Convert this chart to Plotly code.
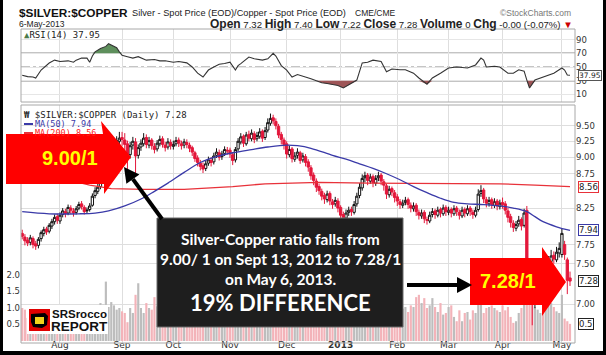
import math
import pandas as pd
import plotly.graph_objects as go

W, H = 606, 355

# ---------------- data ----------------
holidays = ["2012-09-03", "2012-10-29", "2012-10-30", "2012-11-22", "2012-12-25",
            "2013-01-01", "2013-01-21", "2013-02-18", "2013-03-29"]
dates = [d for d in pd.bdate_range("2012-07-12", "2013-05-06")
         if d.strftime("%Y-%m-%d") not in holidays]

opens = [
    7.90, 7.85, 7.81, 7.78, 7.83, 7.76, 7.74, 7.83, 7.90, 7.96, 7.93, 8.00, 8.06, 8.13,
    8.07, 8.16, 8.20, 8.18, 8.25, 8.21, 8.19, 8.25, 8.31, 8.26, 8.21, 8.23, 8.29, 8.43, 8.49, 8.56, 8.63, 8.76, 8.87, 8.99, 9.07, 9.19, 9.25,
    9.31, 9.27, 9.21, 9.04, 9.19, 9.24, 9.03, 9.16, 9.21, 9.31, 9.19, 9.27, 9.17, 9.13, 9.21, 9.29, 9.19, 9.16, 9.23,
    9.17, 9.21, 9.27, 9.21, 9.19, 9.23, 9.19, 9.15, 9.07, 8.99, 8.91, 8.87, 8.83, 8.91, 8.95, 8.93, 9.03, 9.07, 9.01, 9.06, 9.11,
    9.11, 9.04, 8.96, 9.13, 9.24, 9.33, 9.21, 9.36, 9.29, 9.37, 9.29, 9.33, 9.41, 9.31, 9.43, 9.54, 9.63, 9.57, 9.49, 9.36, 9.27,
    9.21, 9.04, 9.13, 8.97, 9.03, 9.07, 8.96, 9.01, 8.93, 8.84, 8.73, 8.64, 8.56, 8.49, 8.43, 8.37, 8.46, 8.34, 8.31, 8.35,
    8.26, 8.16, 8.11, 8.19, 8.23, 8.19, 8.31, 8.43, 8.54, 8.69, 8.73, 8.64, 8.71, 8.61, 8.69, 8.73, 8.63, 8.57, 8.44, 8.53, 8.47,
    8.41, 8.34, 8.29, 8.33, 8.37, 8.29, 8.24, 8.29, 8.19, 8.14, 8.19, 8.09, 8.07, 8.16, 8.21, 8.15, 8.23, 8.17, 8.26,
    8.19, 8.23, 8.17, 8.25, 8.19, 8.14, 8.23, 8.17, 8.25, 8.19, 8.15, 8.23, 8.46, 8.51, 8.37, 8.31, 8.37, 8.29, 8.35, 8.27,
    8.33, 8.31, 8.21, 8.13, 8.04, 7.97, 8.03, 8.09, 8.01, 8.22, 7.52, 7.08, 7.01, 7.16, 7.21, 7.31, 7.27, 7.46, 7.53, 7.61, 7.55, 7.64,
    7.62, 7.75, 7.55, 7.32,
]
highs = [
    7.95, 7.89, 7.85, 7.88, 7.86, 7.80, 7.85, 7.94, 7.99, 7.99, 8.04, 8.10, 8.16, 8.17,
    8.19, 8.25, 8.24, 8.30, 8.29, 8.25, 8.28, 8.34, 8.35, 8.29, 8.26, 8.32, 8.46, 8.55, 8.60, 8.68, 8.80, 8.93, 9.04, 9.14, 9.24, 9.33, 9.40,
    9.40, 9.38, 9.26, 9.24, 9.32, 9.30, 9.20, 9.28, 9.38, 9.36, 9.32, 9.30, 9.22, 9.27, 9.34, 9.33, 9.24, 9.30, 9.28,
    9.26, 9.32, 9.31, 9.26, 9.29, 9.28, 9.23, 9.18, 9.10, 9.03, 8.96, 8.92, 8.95, 9.01, 9.00, 9.07, 9.14, 9.12, 9.10, 9.17, 9.16,
    9.15, 9.08, 9.16, 9.30, 9.38, 9.36, 9.40, 9.42, 9.44, 9.41, 9.40, 9.46, 9.44, 9.48, 9.62, 9.70, 9.68, 9.62, 9.53, 9.40, 9.31,
    9.25, 9.18, 9.16, 9.08, 9.14, 9.10, 9.07, 9.05, 8.97, 8.88, 8.77, 8.68, 8.60, 8.53, 8.47, 8.50, 8.49, 8.38, 8.41, 8.39,
    8.29, 8.20, 8.23, 8.27, 8.27, 8.35, 8.47, 8.61, 8.74, 8.78, 8.76, 8.75, 8.74, 8.73, 8.78, 8.76, 8.67, 8.60, 8.57, 8.56, 8.51,
    8.45, 8.38, 8.37, 8.41, 8.40, 8.33, 8.33, 8.32, 8.23, 8.23, 8.22, 8.13, 8.20, 8.25, 8.24, 8.27, 8.26, 8.30, 8.29,
    8.27, 8.26, 8.29, 8.28, 8.23, 8.27, 8.26, 8.29, 8.28, 8.23, 8.27, 8.52, 8.58, 8.54, 8.41, 8.41, 8.40, 8.39, 8.38, 8.37,
    8.40, 8.35, 8.25, 8.17, 8.08, 8.07, 8.14, 8.12, 8.24, 8.28, 7.56, 7.12, 7.20, 7.28, 7.36, 7.38, 7.50, 7.60, 7.68, 7.66, 7.72, 7.78,
    7.96, 7.80, 7.58, 7.40,
]
lows = [
    7.82, 7.74, 7.73, 7.74, 7.70, 7.68, 7.70, 7.79, 7.86, 7.88, 7.90, 7.96, 8.02, 8.03,
    8.03, 8.12, 8.12, 8.15, 8.17, 8.13, 8.16, 8.22, 8.23, 8.16, 8.17, 8.20, 8.27, 8.39, 8.45, 8.52, 8.60, 8.72, 8.83, 8.94, 9.02, 9.12, 9.20,
    9.18, 8.98, 8.78, 8.98, 9.12, 8.76, 8.98, 9.10, 9.17, 9.14, 9.14, 9.12, 9.06, 9.09, 9.17, 9.15, 9.09, 9.12, 9.12,
    9.12, 9.17, 9.16, 9.12, 9.14, 9.14, 9.08, 9.02, 8.93, 8.86, 8.80, 8.76, 8.79, 8.87, 8.86, 8.89, 8.99, 8.95, 8.96, 9.02, 9.04,
    8.99, 8.88, 8.92, 9.09, 9.20, 9.16, 9.18, 9.25, 9.25, 9.22, 9.25, 9.29, 9.24, 9.27, 9.39, 9.50, 9.52, 9.44, 9.30, 9.20, 9.12,
    8.98, 9.00, 8.92, 8.93, 8.98, 8.90, 8.92, 8.86, 8.78, 8.66, 8.58, 8.48, 8.44, 8.36, 8.31, 8.33, 8.29, 8.24, 8.27, 8.19,
    8.10, 8.06, 8.07, 8.14, 8.14, 8.16, 8.27, 8.39, 8.50, 8.62, 8.58, 8.60, 8.55, 8.57, 8.64, 8.58, 8.50, 8.38, 8.40, 8.42, 8.33,
    8.28, 8.24, 8.25, 8.29, 8.24, 8.19, 8.20, 8.14, 8.09, 8.10, 8.04, 8.02, 8.04, 8.12, 8.10, 8.12, 8.12, 8.14, 8.14,
    8.15, 8.12, 8.14, 8.14, 8.09, 8.11, 8.12, 8.14, 8.14, 8.10, 8.12, 8.20, 8.41, 8.32, 8.26, 8.27, 8.24, 8.25, 8.22, 8.23,
    8.24, 8.16, 8.05, 7.98, 7.92, 7.93, 7.99, 7.94, 7.98, 7.48, 7.02, 6.75, 6.95, 7.10, 7.16, 7.20, 7.24, 7.42, 7.48, 7.50, 7.52, 7.58,
    7.58, 7.55, 7.12, 7.22,
]
closes = [
    7.86, 7.80, 7.77, 7.84, 7.75, 7.73, 7.82, 7.91, 7.95, 7.92, 8.01, 8.06, 8.12, 8.08,
    8.15, 8.21, 8.17, 8.26, 8.22, 8.18, 8.24, 8.30, 8.27, 8.20, 8.22, 8.28, 8.42, 8.50, 8.55, 8.62, 8.75, 8.88, 8.98, 9.08, 9.18, 9.26, 9.30,
    9.28, 9.20, 9.05, 9.18, 9.25, 9.02, 9.15, 9.22, 9.30, 9.20, 9.26, 9.18, 9.12, 9.22, 9.28, 9.20, 9.15, 9.24, 9.18,
    9.20, 9.26, 9.22, 9.18, 9.24, 9.20, 9.14, 9.08, 8.98, 8.92, 8.86, 8.82, 8.90, 8.96, 8.92, 9.02, 9.08, 9.00, 9.05, 9.12, 9.10,
    9.05, 8.95, 9.12, 9.25, 9.32, 9.22, 9.35, 9.30, 9.38, 9.28, 9.34, 9.40, 9.30, 9.42, 9.55, 9.62, 9.58, 9.50, 9.35, 9.28, 9.20,
    9.05, 9.12, 8.98, 9.02, 9.08, 8.95, 9.02, 8.92, 8.85, 8.72, 8.65, 8.55, 8.50, 8.42, 8.38, 8.45, 8.35, 8.30, 8.36, 8.25,
    8.15, 8.12, 8.18, 8.22, 8.20, 8.30, 8.42, 8.55, 8.68, 8.72, 8.65, 8.70, 8.62, 8.68, 8.72, 8.64, 8.58, 8.45, 8.52, 8.48, 8.40,
    8.35, 8.30, 8.32, 8.36, 8.30, 8.25, 8.28, 8.20, 8.15, 8.18, 8.10, 8.08, 8.15, 8.20, 8.16, 8.22, 8.18, 8.25, 8.20,
    8.22, 8.18, 8.24, 8.20, 8.15, 8.22, 8.18, 8.24, 8.20, 8.16, 8.22, 8.45, 8.50, 8.38, 8.32, 8.36, 8.30, 8.34, 8.28, 8.32,
    8.30, 8.22, 8.12, 8.05, 7.98, 8.02, 8.08, 8.00, 8.18, 7.55, 7.10, 7.02, 7.15, 7.22, 7.30, 7.28, 7.45, 7.52, 7.60, 7.56, 7.65, 7.70,
    7.90, 7.62, 7.29, 7.28,
]
volume = [
    1.00, 0.95, 0.70, 0.85, 0.90, 0.60, 0.75, 0.80, 0.70, 0.65, 0.85, 0.80, 0.95, 0.90,
    0.85, 0.90, 0.75, 0.95, 0.80, 0.70, 0.85, 0.90, 0.80, 0.75, 0.70, 0.85, 1.05, 0.95, 1.00, 1.15, 1.10, 1.80, 1.03, 1.18, 1.08, 0.95, 1.00,
    0.90, 0.85, 0.57, 1.00, 0.85, 1.40, 1.75, 1.00, 0.85, 1.15, 1.00, 0.95, 1.33, 1.05, 0.95, 1.10, 0.90, 1.00, 0.85,
    0.95, 1.05, 0.90, 0.80, 1.10, 0.95, 0.85, 1.00, 1.20, 1.15, 0.95, 1.05, 0.90, 0.85, 1.00, 0.95, 1.10, 0.90, 0.80, 0.95, 1.00,
    0.90, 1.10, 1.20, 1.05, 0.95, 1.00, 0.90, 0.85, 1.05, 0.95, 0.90, 1.00, 0.85, 1.10, 1.25, 1.15, 1.05, 1.20, 1.30, 1.10, 1.00,
    1.05, 0.95, 1.10, 0.90, 0.85, 1.00, 0.95, 1.05, 1.15, 1.20, 1.10, 1.25, 1.05, 1.15, 0.95, 1.00, 1.10, 0.90, 0.85, 0.95,
    0.90, 1.05, 0.95, 1.10, 1.00, 1.20, 1.30, 1.25, 1.15, 1.05, 0.95, 1.00, 1.10, 0.90, 0.95, 1.05, 1.10, 1.20, 0.95, 1.00, 1.05,
    1.10, 1.05, 0.98, 1.03, 0.88, 1.08, 1.03, 1.33, 1.40, 1.15, 1.30, 1.00, 1.08, 1.30, 1.03, 0.88, 1.15, 0.80, 0.85,
    1.03, 1.08, 0.73, 0.60, 0.93, 0.60, 0.85, 0.88, 0.65, 0.93, 0.85, 1.30, 1.20, 0.85, 1.00, 1.03, 1.08, 1.00, 0.93, 0.88,
    1.08, 0.93, 1.03, 0.73, 0.55, 0.60, 0.85, 1.00, 1.20, 1.40, 1.35, 1.15, 1.03, 0.95, 0.85, 0.90, 1.00, 1.40, 1.15, 1.03, 0.90, 0.85,
    1.40, 0.68, 0.60, 0.52,
]

rsi_day = [0, 2, 4, 5, 7, 8, 10, 12, 14, 17, 19, 20, 22, 24, 25, 26, 27, 29, 31, 32, 34, 35, 36, 37, 39,
           41, 43, 45, 46, 49, 51, 53, 56, 58, 61, 63, 65, 67, 69, 71, 73, 75, 77, 79, 80, 81, 84, 86,
           88, 89, 91, 93, 94, 95, 96, 98, 100, 102, 103, 105, 107, 109, 111, 113, 115, 117, 119, 121,
           122, 124, 126, 128, 130, 131, 133, 135, 137, 140, 142, 145, 147, 150, 152, 155, 158, 161,
           165, 168, 170, 171, 172, 175, 177, 180, 182, 184, 186, 187, 188, 190, 193, 197, 200, 201,
           202, 203]
rsi_val = [38, 36, 35.5, 34, 45.6, 49, 55.8, 60, 58, 59, 57, 60, 63, 63, 57, 66, 72, 77, 80, 84, 80, 78,
           72, 67, 65, 63, 65, 61, 60, 61, 59, 59, 57, 58, 56, 50, 41, 35.5, 45.6, 50, 54, 55, 57, 45.6,
           52, 55, 64.5, 62, 61, 60, 62, 70, 66, 58, 52, 45.6, 35.5, 39, 38, 36, 33, 30, 27, 26, 25, 23,
           19.5, 24, 26, 31, 56, 57, 60, 59, 58, 43, 47, 46, 46, 41, 34, 25, 34, 41, 48.5, 50, 48.5, 53,
           63, 60, 50, 51, 50, 41, 41, 46, 44, 31, 19.5, 31, 35.5, 41, 48.5, 45.6, 38.5, 37.95]

ma50_day = [0, 10, 21, 27, 32, 38, 44, 49, 54, 60, 66, 72, 78, 85, 91, 98, 102, 107, 115, 120, 125,
            130, 135, 140, 145, 150, 155, 160, 165, 171, 177, 182, 187, 190, 193, 198, 203]
ma50_val = [8.20, 8.17, 8.17, 8.18, 8.21, 8.28, 8.38, 8.49, 8.61, 8.77, 8.92, 9.01, 9.07, 9.12, 9.16,
            9.19, 9.18, 9.14, 9.03, 8.97, 8.90, 8.83, 8.75, 8.66, 8.56, 8.47, 8.39, 8.33, 8.31, 8.30,
            8.28, 8.25, 8.20, 8.13, 8.06, 7.99, 7.94]
ma200_day = [0, 8, 17, 25, 33, 45, 60, 66, 78, 90, 97, 110, 128, 150, 165, 177, 190, 203]
ma200_val = [8.88, 8.76, 8.66, 8.58, 8.53, 8.52, 8.52, 8.53, 8.56, 8.60, 8.61, 8.62, 8.61, 8.61,
             8.61, 8.60, 8.58, 8.56]

month_labels = ["Aug", "Sep", "Oct", "Nov", "Dec", "<b>2013</b>", "Feb", "Mar", "Apr", "May"]
price_ticks = [7.00, 7.50, 7.75, 8.25, 8.75, 9.00, 9.25, 9.50]
rsi_ticks = [10, 30, 50, 70, 90]
vol_ticks = [0.5, 1.0, 1.5, 2.0]

n = len(dates)
for arr in (opens, highs, lows, closes, volume):
    assert len(arr) == n, (len(arr), n)

# ---------------- helpers ----------------
idx = list(range(n))
prev = [opens[0]] + closes[:-1]
is_red = [closes[i] < prev[i] for i in idx]

month_ticks = []
seen = set()
for i, d in enumerate(dates):
    k = (d.year, d.month)
    if k not in seen:
        seen.add(k)
        month_ticks.append(i)
month_ticks = month_ticks[1:]


def fx(x):
    return x / W


def fy(y):
    return 1 - y / H


def poly(pts):
    return "M " + " L ".join(f"{fx(x):.5f},{fy(y):.5f}" for x, y in pts) + " Z"


XD = [fx(21), fx(575)]
YM = [fy(343), fy(105)]
YR = [fy(102), fy(29)]
XR = [-0.45, 204.85]

RED = "#e3173b"
PINK = "#f3b3b9"
GRAY = "#bdbdbd"
GRID = "#dedede"
MONO = "DejaVu Sans Mono"
SANS = "Liberation Sans"

fig = go.Figure()

# volume
fig.add_trace(go.Bar(x=idx, y=volume, xaxis="x", yaxis="y",
                     marker=dict(color=[PINK if r else GRAY for r in is_red], line=dict(width=0)),
                     width=0.8, hoverinfo="skip"))


def candle(sel, col):
    return go.Candlestick(
        x=[idx[i] for i in sel], open=[opens[i] for i in sel], high=[highs[i] for i in sel],
        low=[lows[i] for i in sel], close=[closes[i] for i in sel], xaxis="x", yaxis="y2",
        increasing=dict(line=dict(color=col, width=1), fillcolor="white"),
        decreasing=dict(line=dict(color=col, width=1), fillcolor=col),
        whiskerwidth=0, showlegend=False, hoverinfo="skip")


fig.add_trace(candle([i for i in idx if not is_red[i]], "#111111"))
fig.add_trace(candle([i for i in idx if is_red[i]], RED))

fig.add_trace(go.Scatter(x=ma200_day, y=ma200_val, mode="lines", xaxis="x", yaxis="y2",
                         line=dict(color="#e8323a", width=1.3), hoverinfo="skip"))
fig.add_trace(go.Scatter(x=ma50_day, y=ma50_val, mode="lines", xaxis="x", yaxis="y2",
                         line=dict(color="#3a3aa8", width=1.3, shape="spline"), hoverinfo="skip"))

# RSI with fills
fig.add_trace(go.Scatter(x=rsi_day, y=[70] * len(rsi_day), mode="lines", xaxis="x2", yaxis="y3",
                         line=dict(width=0), hoverinfo="skip"))
fig.add_trace(go.Scatter(x=rsi_day, y=[max(v, 70) for v in rsi_val], mode="lines", xaxis="x2", yaxis="y3",
                         line=dict(width=0), fill="tonexty", fillcolor="#5e8f5c", hoverinfo="skip"))
fig.add_trace(go.Scatter(x=rsi_day, y=[30] * len(rsi_day), mode="lines", xaxis="x2", yaxis="y3",
                         line=dict(width=0), hoverinfo="skip"))
fig.add_trace(go.Scatter(x=rsi_day, y=[min(v, 30) for v in rsi_val], mode="lines", xaxis="x2", yaxis="y3",
                         line=dict(width=0), fill="tonexty", fillcolor="#9e5557", hoverinfo="skip"))
fig.add_trace(go.Scatter(x=rsi_day, y=rsi_val, mode="lines", xaxis="x2", yaxis="y3",
                         line=dict(color="#333333", width=1.1), hoverinfo="skip"))

shapes = []
# RSI reference lines
for lvl, dash, col, wd in ((70, "solid", "#8a8a8a", 1.5), (30, "solid", "#8a8a8a", 1.5), (50, "dashdot", "#8a8a8a", 1)):
    shapes.append(dict(type="line", xref="paper", yref="y3", x0=XD[0], x1=XD[1], y0=lvl, y1=lvl,
                       line=dict(color=col, width=wd, dash=dash), layer="below"))
# panel frames
for y0, y1 in ((29, 102), (105, 343)):
    shapes.append(dict(type="rect", xref="paper", yref="paper", x0=fx(21), x1=fx(575), y0=fy(y1), y1=fy(y0),
                       line=dict(color="#a8a8a8", width=1)))
# MA legend dashes
shapes.append(dict(type="line", xref="paper", yref="paper", x0=fx(24), x1=fx(33), y0=fy(124), y1=fy(124),
                   line=dict(color="#3a3aa8", width=2)))
shapes.append(dict(type="line", xref="paper", yref="paper", x0=fx(24), x1=fx(33), y0=fy(133), y1=fy(133),
                   line=dict(color="#e8323a", width=2)))
# big red arrows
shapes.append(dict(type="path", xref="paper", yref="paper", line=dict(width=0), fillcolor="#ff0000",
                   path=poly([(6, 134), (103, 134), (101, 121), (131, 157), (104, 194), (104, 184), (6, 184)])))
shapes.append(dict(type="path", xref="paper", yref="paper", line=dict(width=0), fillcolor="#ff0000",
                   path=poly([(470, 258), (542, 258), (542, 247), (566, 282), (542, 316), (542, 305), (470, 305)])))
# black text box
shapes.append(dict(type="rect", xref="paper", yref="paper", x0=fx(157), x1=fx(403), y0=fy(327), y1=fy(218),
                   fillcolor="#1e1e1e", line=dict(color="#6a6a6a", width=1)))
# black arrows
shapes.append(dict(type="line", xref="paper", yref="paper", x0=fx(162), y0=fy(219), x1=fx(132.9), y1=fy(179.1),
                   line=dict(color="black", width=4)))
shapes.append(dict(type="path", xref="paper", yref="paper", line=dict(width=0), fillcolor="black",
                   path=poly([(124, 167), (139.4, 174.4), (126.4, 183.8)])))
shapes.append(dict(type="line", xref="paper", yref="paper", x0=fx(407), y0=fy(285), x1=fx(458), y1=fy(285),
                   line=dict(color="black", width=4)))
shapes.append(dict(type="path", xref="paper", yref="paper", line=dict(width=0), fillcolor="black",
                   path=poly([(472, 285), (457, 277), (457, 293)])))
# logo
shapes.append(dict(type="rect", xref="paper", yref="paper", x0=fx(27), x1=fx(108), y0=fy(334), y1=fy(305),
                   fillcolor="white", line=dict(width=0)))
shapes.append(dict(type="rect", xref="paper", yref="paper", x0=fx(29), x1=fx(50), y0=fy(331), y1=fy(309),
                   fillcolor="#e00000", line=dict(width=0)))
shapes.append(dict(type="path", xref="paper", yref="paper", line=dict(width=0), fillcolor="black",
                   path=poly([(31, 314), (45, 313), (48, 316), (47, 325), (42, 328), (33, 327), (31, 322)])))
shapes.append(dict(type="rect", xref="paper", yref="paper", x0=fx(35), x1=fx(44), y0=fy(324), y1=fy(317),
                   fillcolor="#f2d21b", line=dict(width=0)))
# outer black border
for x0, y0, x1, y1 in ((0, 0, 3, 355), (603, 0, 606, 355), (0, 351, 606, 355)):
    shapes.append(dict(type="rect", xref="paper", yref="paper", x0=fx(x0), x1=fx(x1), y0=fy(y1), y1=fy(y0),
                       fillcolor="black", line=dict(width=0)))

ann = []


def txt(text, x, y, size=9, color="#000", xanchor="left", family=SANS, yanchor="middle"):
    ann.append(dict(text=text, x=fx(x), y=fy(y), xref="paper", yref="paper", showarrow=False,
                    xanchor=xanchor, yanchor=yanchor, font=dict(size=size, color=color, family=family),
                    borderpad=0))


def B(word):
    return f"<b><span style='font-size:12px'>{word}</span></b>"


# header
txt("<b>$SILVER:$COPPER</b>", 18, 13, size=11.8, color="#111")
txt("Silver - Spot Price (EOD)/Copper - Spot Price (EOD)", 131, 13, size=9.2, color="#222")
txt("CME/CME", 354, 13, size=8.5, color="#222")
txt("©StockCharts.com", 572, 13, size=8.5, color="#777", xanchor="right")
txt("6-May-2013", 18, 24, size=8.5, color="#222")
txt(f"{B('Open')} 7.32 {B('High')} 7.40 {B('Low')} 7.22 {B('Close')} 7.28 {B('Volume')} 0 "
    f"{B('Chg')} -0.00 (-0.07%) <span style='color:#cc0000'>▼</span>", 574, 24, size=9.6, color="#222",
    xanchor="right")
# panel labels
txt("<span style='color:#4a7a48'>▲</span>RSI(14) 37.95", 23, 35, size=9, color="#222", family=MONO)
txt("<b>₩</b> $SILVER:$COPPER (Daily) 7.28", 23, 115, size=9, color="#222", family=MONO)
txt("MA(50) 7.94", 34, 124, size=8.5, color="#3a3aa8", family=MONO)
txt("MA(200) 8.56", 34, 133, size=8.5, color="#ff1a1a", family=MONO)
# arrows text
txt("<b>9.00/1</b>", 70, 158, size=20, color="#ffff00", xanchor="center", family=SANS)
txt("<b>7.28/1</b>", 508, 281, size=20, color="#ffff00", xanchor="center", family=SANS)
# box text
BOX = "Lato"
txt("<b>Silver-Copper ratio falls from</b>", 280, 239, size=15.5, color="white", xanchor="center", family=BOX)
txt("<b>9.00/ 1 on Sept 13, 2012 to 7.28/1</b>", 280, 259, size=15.5, color="white", xanchor="center", family=BOX)
txt("<b>on May 6, 2013.</b>", 280, 279, size=15.5, color="white", xanchor="center", family=BOX)
txt("<b>19% DIFFERENCE</b>", 280, 302, size=22, color="white", xanchor="center", family=BOX)
# logo text
txt("<b>SRSrocco</b>", 51, 314, size=11.5, color="#111", family=SANS)
txt("<b>REPORT</b>", 50, 326, size=13.5, color="#111", family=SANS)


def tag(text, yref, yv, border, tcolor="#222", size=8.5):
    ann.append(dict(text=text, xref="paper", x=fx(578), yref=yref, y=yv, xanchor="left", yanchor="middle",
                    showarrow=False, bgcolor="white", bordercolor=border, borderwidth=1, borderpad=0,
                    font=dict(size=size, color=tcolor, family="DejaVu Sans")))


tag("8.56", "y2", math.log10(ma200_val[-1]), "#e8323a")
tag("7.94", "y2", math.log10(ma50_val[-1]), "#3a3aa8")
tag("7.28", "y2", math.log10(closes[-1]), "#222")
tag("0.5", "y", volume[-1], "#222")
tag("37.95", "y3", rsi_val[-1], "#555", size=7.5)

tickfont = dict(size=8.5, color="#333", family="DejaVu Sans")
fig.update_layout(
    width=W, height=H, margin=dict(l=0, r=0, t=0, b=0),
    paper_bgcolor="white", plot_bgcolor="white", showlegend=False,
    bargap=0.15, boxgap=0.15, boxgroupgap=0,
    xaxis=dict(domain=XD, anchor="y", range=XR, tickvals=month_ticks, ticktext=month_labels,
               showgrid=True, gridcolor=GRID, zeroline=False, ticks="", showline=False,
               ticklabelstandoff=-5,
               rangeslider=dict(visible=False), tickfont=dict(size=9, color="#333", family="DejaVu Sans")),
    xaxis2=dict(domain=XD, anchor="y3", matches="x", tickvals=month_ticks, showticklabels=False,
                showgrid=True, gridcolor=GRID, zeroline=False, ticks="", rangeslider=dict(visible=False)),
    yaxis=dict(domain=YM, range=[-0.06, 7.15], side="left", tickvals=vol_ticks,
               ticktext=[f"{v:.1f}" for v in vol_ticks], showgrid=False, zeroline=False, ticks="",
               tickfont=tickfont),
    yaxis2=dict(overlaying="y", side="right", type="log", anchor="x",
                range=[math.log10(6.548), math.log10(9.843)], tickvals=price_ticks,
                ticktext=[f"{v:.2f}" for v in price_ticks], showgrid=True, gridcolor=GRID,
                zeroline=False, ticks="", tickfont=tickfont),
    yaxis3=dict(domain=YR, anchor="x2", range=[-0.9, 105.3], side="right", tickvals=rsi_ticks,
                showgrid=True, gridcolor="#e6e6e6", zeroline=False, ticks="", tickfont=tickfont),
    shapes=shapes, annotations=ann,
)

fig.write_html("out.html")
